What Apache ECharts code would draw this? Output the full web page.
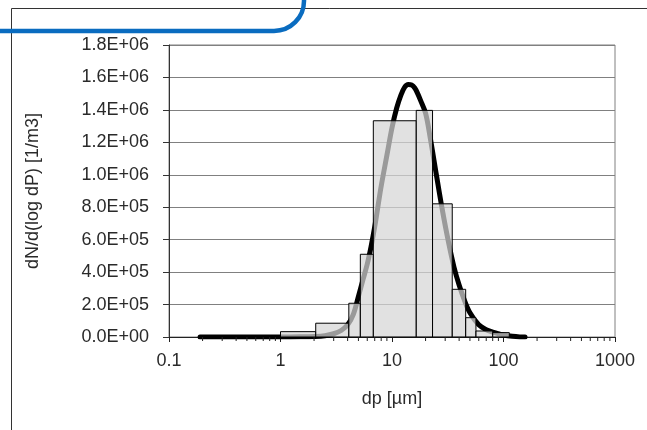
<!DOCTYPE html>
<html>
<head>
<meta charset="utf-8">
<script src="https://cdn.jsdelivr.net/npm/echarts@6/dist/echarts.min.js"></script>
<style>
html,body{margin:0;padding:0;background:#fff;}
#chart{width:647px;height:430px;}
</style>
</head>
<body>
<div id="chart"></div>
<script>
// ---- data ----
var binEdges = [1, 2.07, 4.1, 5.2, 6.8, 16.5, 23.1, 34.7, 45.8, 56.6, 80, 112.7];
var binValues = [3.3e4, 8.5e4, 2.08e5, 5.1e5, 1.333e6, 1.397e6, 8.21e5, 2.94e5, 1.19e5, 3.7e4, 2.7e4];

var curveDp = [0.19, 0.5, 1.0, 1.5, 2.0, 2.5, 3.0, 3.5, 4.0, 4.5, 5.0, 5.5, 6.0, 6.5, 7.0, 7.5, 8.0, 9.0, 10, 11, 12, 13, 14, 15, 16, 17, 18, 20, 22, 25, 28, 32, 36, 40, 45, 50, 60, 70, 80, 90, 100, 120, 140, 156];
var curveValues = [0, 0, 0, 1000, 3000, 8000, 2.0e4, 4.0e4, 7.5e4, 1.4e5, 2.5e5, 3.55e5, 4.5e5, 5.6e5, 6.8e5, 8.1e5, 9.3e5, 1.12e6, 1.29e6, 1.41e6, 1.49e6, 1.54e6, 1.556e6, 1.553e6, 1.535e6, 1.50e6, 1.46e6, 1.38e6, 1.23e6, 1.0e6, 8.0e5, 5.9e5, 4.3e5, 3.2e5, 2.2e5, 1.5e5, 7.5e4, 4.5e4, 3.0e4, 2.0e4, 1.2e4, 4.0e3, 500, 0];

var xTickValues = [0.1, 1, 10, 100, 1000];
var xTickLabels = ['0.1', '1', '10', '100', '1000'];
var yTickLabels = ['0.0E+00', '2.0E+05', '4.0E+05', '6.0E+05', '8.0E+05', '1.0E+06', '1.2E+06', '1.4E+06', '1.6E+06', '1.8E+06'];
var minorMultipliers = [2, 3, 4, 5, 6, 7, 8, 9];
var decades = [0.1, 1, 10, 100];

var xTitle = 'dp [\u00B5m]';
var yTitle = 'dN/d(log dP) [1/m3]';

// ---- build ----
var curveData = curveDp.map(function (d, i) { return [d, curveValues[i]]; });
var barData = binValues.map(function (v, i) { return [binEdges[i], binEdges[i + 1], v]; });
var minorTicks = [];
decades.forEach(function (d) { minorMultipliers.forEach(function (m) { minorTicks.push([d * m]); }); });

var FONT = 'Liberation Sans, Arial, sans-serif';
var TXT = '#2a2a2a';
var chart = echarts.init(document.getElementById('chart'), null, {renderer: 'canvas'});
chart.setOption({
  animation: false,
  backgroundColor: '#ffffff',
  grid: {left: 169, right: 32, top: 45, bottom: 93, show: true, borderColor: '#808080', borderWidth: 1, containLabel: false},
  xAxis: {
    type: 'log', logBase: 10, min: 0.1, max: 1000,
    name: xTitle, nameLocation: 'middle', nameGap: 53,
    nameTextStyle: {fontFamily: FONT, fontSize: 18, color: TXT},
    axisLine: {show: true, lineStyle: {color: '#222', width: 1}},
    axisTick: {show: true, inside: false, length: 5, lineStyle: {color: '#222'}},
    minorTick: {show: false},
    splitLine: {show: false},
    axisLabel: {
      fontFamily: FONT, fontSize: 18, color: TXT, margin: 15,
      formatter: function (v) {
        var best = 0;
        for (var i = 0; i < xTickValues.length; i++) { if (Math.abs(Math.log10(v) - Math.log10(xTickValues[i])) < 1e-6) best = i; }
        return xTickLabels[best];
      }
    }
  },
  yAxis: {
    type: 'value', min: 0, max: 1.8e6, interval: 2e5,
    name: yTitle, nameLocation: 'middle', nameGap: 127, nameRotate: 90,
    nameTextStyle: {fontFamily: FONT, fontSize: 18, color: TXT},
    axisLine: {show: true, lineStyle: {color: '#333', width: 1}},
    axisTick: {show: true, inside: false, length: 6, lineStyle: {color: '#333'}},
    splitLine: {show: true, lineStyle: {color: '#808080', width: 1}},
    axisLabel: {
      fontFamily: FONT, fontSize: 18, color: TXT, margin: 20,
      formatter: function (v) { return yTickLabels[Math.round(v / 2e5)]; }
    }
  },
  graphic: [
    {type: 'rect', z: 100, shape: {x: 11.5, y: 8.5, width: 700, height: 500}, style: {fill: 'none', stroke: '#333', lineWidth: 1}},
    {type: 'line', z: 101, shape: {x1: 0, y1: 31, x2: 274, y2: 31}, style: {stroke: '#0a6cc0', lineWidth: 4.5}},
    {type: 'arc', z: 101, shape: {cx: 274, cy: 1, r: 30, startAngle: 0, endAngle: Math.PI / 2, clockwise: true}, style: {fill: 'none', stroke: '#0a6cc0', lineWidth: 4.5}},
    {type: 'line', z: 101, shape: {x1: 304, y1: 1, x2: 304, y2: -5}, style: {stroke: '#0a6cc0', lineWidth: 4.5}}
  ],
  series: [
    {
      type: 'line', name: 'curve', data: curveData, z: 2,
      smooth: 0.35, symbol: 'none',
      lineStyle: {color: '#000', width: 5, cap: 'round', join: 'round'}
    },
    {
      type: 'custom', name: 'hist', data: barData, z: 3, clip: false,
      renderItem: function (params, api) {
        var p0 = api.coord([api.value(0), api.value(2)]);
        var p1 = api.coord([api.value(1), 0]);
        return {
          type: 'rect',
          shape: {x: p0[0], y: p0[1], width: p1[0] - p0[0], height: p1[1] - p0[1]},
          style: {fill: 'rgba(214,214,214,0.72)', stroke: '#000', lineWidth: 1}
        };
      }
    },
    {
      type: 'custom', name: 'minorTicks', data: minorTicks, z: 4, clip: false, silent: true,
      renderItem: function (params, api) {
        var p = api.coord([api.value(0), 0]);
        return {
          type: 'line',
          shape: {x1: p[0], y1: p[1], x2: p[0], y2: p[1] + 4},
          style: {stroke: '#222', lineWidth: 1}
        };
      }
    }
  ]
});
</script>
</body>
</html>
